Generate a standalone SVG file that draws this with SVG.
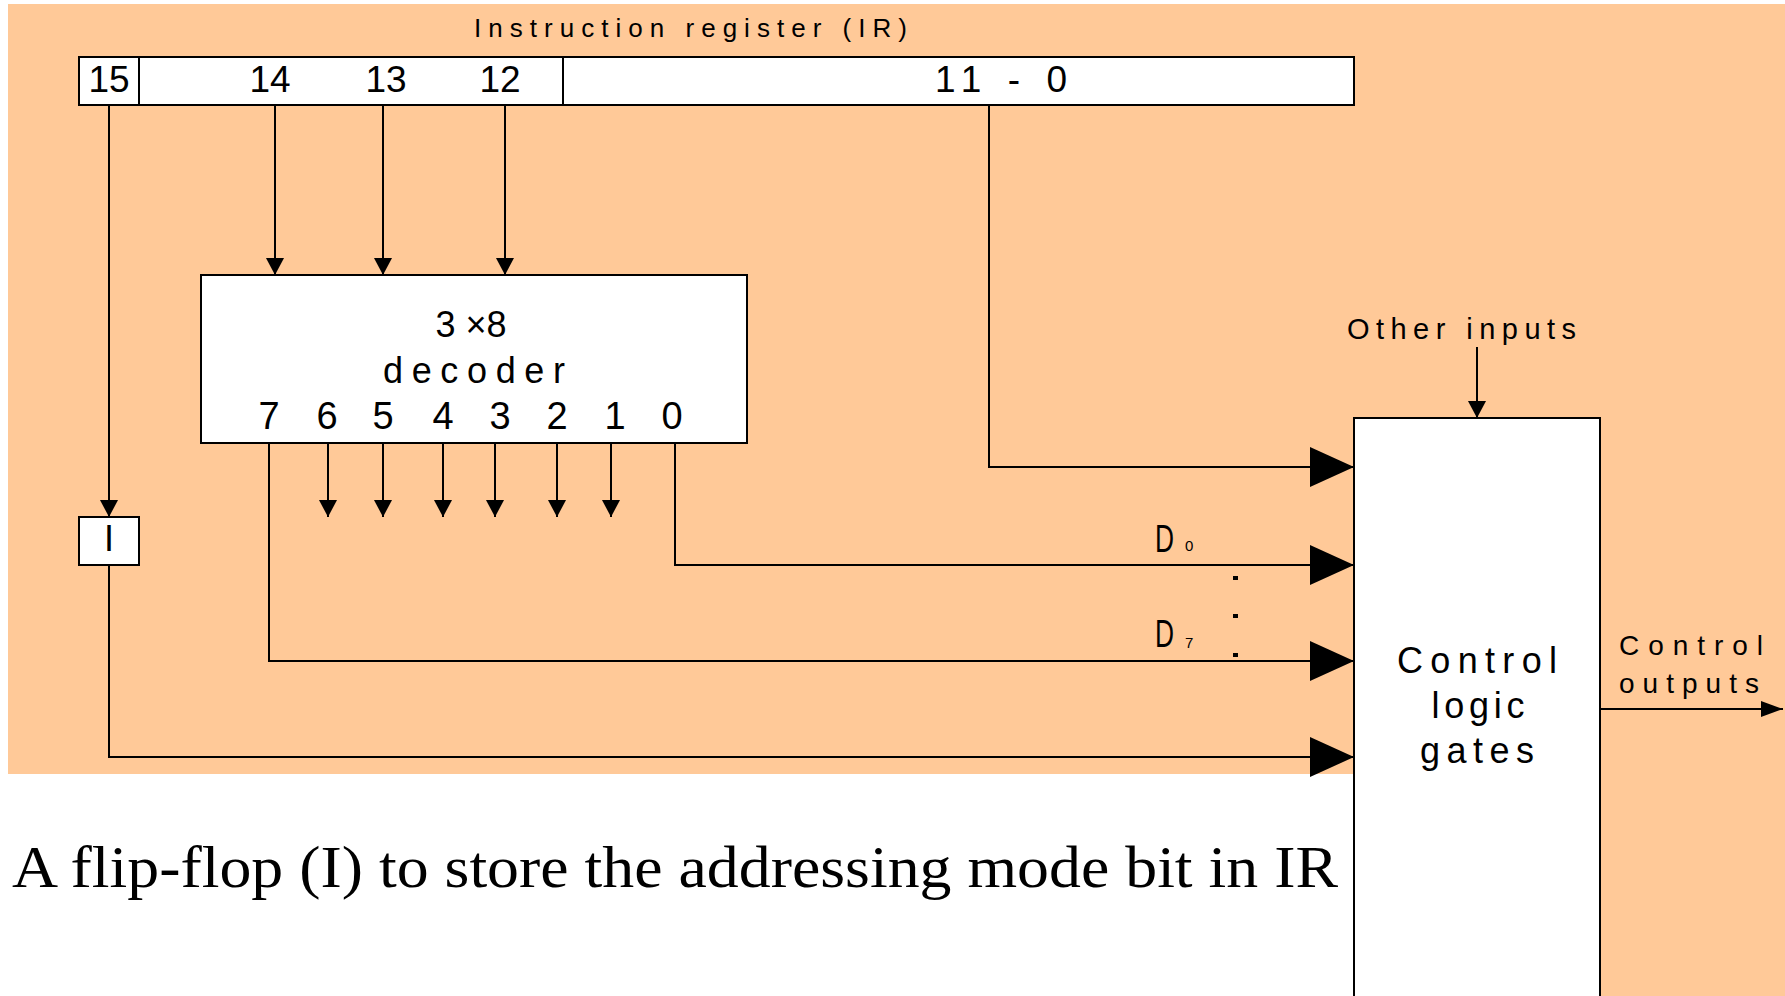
<svg xmlns="http://www.w3.org/2000/svg" width="1785" height="996" viewBox="0 0 1785 996">
<style>
.bg{fill:#FFC998}
.box{fill:#fff;stroke:#000;stroke-width:2}
.ln{fill:none;stroke:#000;stroke-width:2}
.t{font-family:"Liberation Sans",Arial,sans-serif;fill:#000}
.cap{font-family:"Liberation Serif","Times New Roman",serif;fill:#000}
</style>
<defs>
<marker id="sm" markerUnits="userSpaceOnUse" markerWidth="18" markerHeight="18" refX="17" refY="9" orient="auto"><path d="M0,0 L17,9 L0,18 Z" fill="#000"/></marker>
<marker id="big" markerUnits="userSpaceOnUse" markerWidth="44" markerHeight="40" refX="44" refY="20" orient="auto"><path d="M0,0 L44,20 L0,40 Z" fill="#000"/></marker>
<marker id="out" markerUnits="userSpaceOnUse" markerWidth="22" markerHeight="16" refX="22" refY="8" orient="auto"><path d="M0,0 L22,8 L0,16 Z" fill="#000"/></marker>
</defs>
<rect width="1785" height="996" fill="#fff"/>
<rect class="bg" x="8" y="4" width="1777" height="770"/>
<rect class="bg" x="1600" y="770" width="185" height="226"/>

<text class="t" x="474" y="37" font-size="26" textLength="433" lengthAdjust="spacing">Instruction register (IR)</text>

<g id="ir">
<rect class="box" x="79" y="57" width="1275" height="48"/>
<line class="ln" x1="139" y1="57" x2="139" y2="105"/>
<line class="ln" x1="563" y1="57" x2="563" y2="105"/>
<text class="t" x="109" y="92" font-size="37" text-anchor="middle">15</text>
<text class="t" x="270" y="92" font-size="37" text-anchor="middle">14</text>
<text class="t" x="386" y="92" font-size="37" text-anchor="middle">13</text>
<text class="t" x="500" y="92" font-size="37" text-anchor="middle">12</text>
<text class="t" x="935" y="92" font-size="37" textLength="132" lengthAdjust="spacing">11 - 0</text>
</g>

<g id="decoder">
<rect class="box" x="201" y="275" width="546" height="168"/>
<text class="t" x="471" y="337" font-size="36" text-anchor="middle">3 ×8</text>
<text class="t" x="474" y="383" font-size="36" text-anchor="middle" textLength="182" lengthAdjust="spacing">decoder</text>
<g font-size="38" text-anchor="middle" class="t">
<text x="269" y="429">7</text>
<text x="327" y="429">6</text>
<text x="383" y="429">5</text>
<text x="443" y="429">4</text>
<text x="500" y="429">3</text>
<text x="557" y="429">2</text>
<text x="615" y="429">1</text>
<text x="672" y="429">0</text>
</g>
</g>

<g id="flipflop">
<rect class="box" x="79" y="517" width="60" height="48"/>
<text class="t" x="109" y="551" font-size="36" text-anchor="middle">I</text>
</g>

<g id="control">
<rect class="box" x="1354" y="418" width="246" height="600"/>
<text class="t" x="1477" y="673" font-size="36" text-anchor="middle" textLength="160" lengthAdjust="spacing">Control</text>
<text class="t" x="1478" y="718" font-size="36" text-anchor="middle" textLength="93" lengthAdjust="spacing">logic</text>
<text class="t" x="1477" y="763" font-size="36" text-anchor="middle" textLength="114" lengthAdjust="spacing">gates</text>
</g>

<g id="labels">
<text class="t" x="1347" y="339" font-size="29" textLength="229" lengthAdjust="spacing">Other inputs</text>
<text class="t" x="1155" y="552" font-size="38" textLength="19" lengthAdjust="spacingAndGlyphs">D</text>
<text class="t" x="1185" y="551" font-size="15">0</text>
<text class="t" x="1155" y="647" font-size="38" textLength="19" lengthAdjust="spacingAndGlyphs">D</text>
<text class="t" x="1185" y="648" font-size="15" fill="#555">7</text>
<rect x="1233" y="576" width="5" height="4"/>
<rect x="1233" y="614" width="5" height="4"/>
<rect x="1233" y="653" width="5" height="4"/>
<text class="t" x="1619" y="655" font-size="28" textLength="144" lengthAdjust="spacing">Control</text>
<text class="t" x="1619" y="693" font-size="28" textLength="140" lengthAdjust="spacing">outputs</text>
</g>

<g id="connectors">
<path class="ln" d="M109,105 V517" marker-end="url(#sm)"/>
<path class="ln" d="M275,105 V275" marker-end="url(#sm)"/>
<path class="ln" d="M383,105 V275" marker-end="url(#sm)"/>
<path class="ln" d="M505,105 V275" marker-end="url(#sm)"/>
<path class="ln" d="M328,443 V517" marker-end="url(#sm)"/>
<path class="ln" d="M383,443 V517" marker-end="url(#sm)"/>
<path class="ln" d="M443,443 V517" marker-end="url(#sm)"/>
<path class="ln" d="M495,443 V517" marker-end="url(#sm)"/>
<path class="ln" d="M557,443 V517" marker-end="url(#sm)"/>
<path class="ln" d="M611,443 V517" marker-end="url(#sm)"/>
<path class="ln" d="M989,105 V467 H1354" marker-end="url(#big)"/>
<path class="ln" d="M675,443 V565 H1354" marker-end="url(#big)"/>
<path class="ln" d="M269,443 V661 H1354" marker-end="url(#big)"/>
<path class="ln" d="M109,565 V757 H1354" marker-end="url(#big)"/>
<path class="ln" d="M1477,347 V418" marker-end="url(#sm)"/>
<path class="ln" d="M1600,709 H1783" marker-end="url(#out)"/>
</g>

<text class="cap" x="12" y="887" font-size="60" textLength="1326" lengthAdjust="spacingAndGlyphs">A flip-flop (I) to store the addressing mode bit in IR</text>
</svg>
